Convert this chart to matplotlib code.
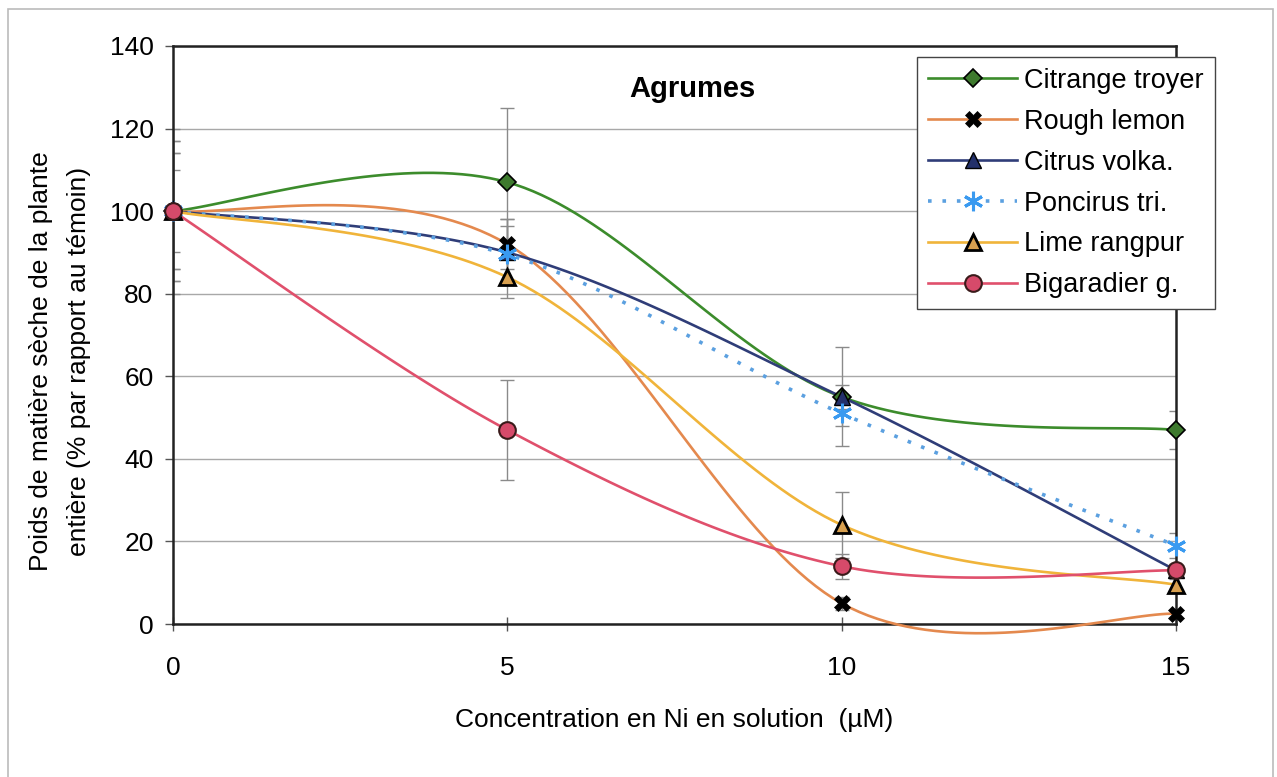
import numpy as np
import matplotlib
matplotlib.use("Agg")
import matplotlib.pyplot as plt
from matplotlib.patches import Rectangle

plt.rcParams['font.family'] = ['Liberation Sans', 'DejaVu Sans']

# Data
conc = [0, 5, 10, 15]
series = ['Citrange troyer', 'Rough lemon', 'Citrus volka.', 'Poncirus tri.', 'Lime rangpur', 'Bigaradier g.']
citrange = [100, 107, 55, 47]
rough_lemon = [100, 92, 5, 2.5]
citrus_volka = [100, 90, 55, 13]
poncirus = [100, 89.5, 51, 19]
lime = [100, 84, 24, 9.5]
bigaradier = [100, 47, 14, 13]

citrange_err = [20, 18, 12, 4.5]
rough_lemon_err = [14, 6, 1.5, 1]
citrus_volka_err = [10, 8, 3, 1.5]
poncirus_err = [17, 7, 3, 3]
lime_err = [17, 5, 8, 1.5]
bigaradier_err = [14, 12, 3, 1.5]


def smooth(x, y, n=40):
    # excel-like smoothed line (bezier through the points)
    x = np.asarray(x, float)
    y = np.asarray(y, float)
    px = np.concatenate([[x[0]], x, [x[-1]]])
    py = np.concatenate([[y[0]], y, [y[-1]]])
    xs, ys = [], []
    t = np.linspace(0, 1, n)
    for i in range(1, len(px) - 2):
        p0 = np.array([px[i], py[i]])
        p3 = np.array([px[i + 1], py[i + 1]])
        b1 = p0 + (np.array([px[i + 1], py[i + 1]]) - np.array([px[i - 1], py[i - 1]])) / 6
        b2 = p3 - (np.array([px[i + 2], py[i + 2]]) - np.array([px[i], py[i]])) / 6
        pts = ((1 - t) ** 3)[:, None] * p0 + (3 * (1 - t) ** 2 * t)[:, None] * b1 \
            + (3 * (1 - t) * t ** 2)[:, None] * b2 + (t ** 3)[:, None] * p3
        xs.extend(pts[:, 0])
        ys.extend(pts[:, 1])
    return np.array(xs), np.array(ys)


fig = plt.figure(figsize=(12.77, 7.77), dpi=100)
ax = fig.add_axes([0.1355, 0.1969, 0.7854, 0.7439])

data = [citrange, rough_lemon, citrus_volka, poncirus, lime, bigaradier]
errs = [citrange_err, rough_lemon_err, citrus_volka_err, poncirus_err, lime_err, bigaradier_err]
line_colors = ['#3c8c2c', '#e4894e', '#2f3d78', '#5ba0e0', '#f0b43a', '#e0506c']
styles = [
    dict(marker='D', ms=9, mfc='#3e7a2e', mec='black', mew=1.2),
    dict(marker='X', ms=11, mfc='black', mec='black', mew=0.5),
    dict(marker='^', ms=11, mfc='#23306a', mec='black', mew=1.0),
    dict(marker=(6, 2, 0), ms=14, mfc='#3a9af0', mec='#3a9af0', mew=2.2),
    dict(marker='^', ms=11, mfc='#d8a050', mec='black', mew=2.0),
    dict(marker='o', ms=12, mfc='#d64a6a', mec='#3a1a1a', mew=1.5),
]
linestyles = ['-', '-', '-', (0, (1, 3)), '-', '-']

for vals, err in zip(data, errs):
    ax.errorbar(conc, vals, yerr=err, fmt='none', ecolor='#8a8a8a', elinewidth=1,
                capsize=5, capthick=1, zorder=2)

handles = []
for name, vals, col, st, ls in zip(series, data, line_colors, styles, linestyles):
    sx, sy = smooth(conc, vals)
    lw = 2.6 if ls != '-' else 1.9
    ax.plot(sx, sy, color=col, lw=lw, ls=ls, zorder=3, clip_on=False)
    ax.plot(conc, vals, ls='none', zorder=4, clip_on=False, **st)
    h, = ax.plot([], [], color=col, lw=lw, ls=ls, **st)
    h.set_label(name)
    handles.append(h)

ax.set_xlim(0, 15)
ax.set_ylim(0, 140)
ax.set_xticks(conc)
ax.set_yticks(range(0, 141, 20))
ax.yaxis.grid(True, color='#a8a8a8', lw=1)
ax.set_axisbelow(True)
for sp in ax.spines.values():
    sp.set_color('#222222')
    sp.set_linewidth(1.8)

ax.tick_params(axis='y', direction='out', length=6, width=1, color='#555555', labelsize=19, pad=8)
ax.tick_params(axis='x', direction='inout', length=10, width=1, color='#555555', labelsize=19, pad=18)

ax.set_xlabel('Concentration en Ni en solution  (µM)', fontsize=19, labelpad=20)
ax.set_ylabel('Poids de matière sèche de la plante\nentière (% par rapport au témoin)', fontsize=19,
              linespacing=1.7)
ax.yaxis.set_label_coords(-0.082, 0.455)

ax.text(0.5175, 0.925, 'Agrumes', transform=ax.transAxes, ha='center', va='center',
        fontsize=21, fontweight='bold')

leg = ax.legend(handles=handles, loc='upper left', bbox_to_anchor=(0.742, 0.981),
                fontsize=19.5, frameon=True, fancybox=False, framealpha=1,
                edgecolor='#444444', handlelength=3.3, handletextpad=0.25,
                labelspacing=0.55, borderpad=0.4, borderaxespad=0)
leg.get_frame().set_linewidth(1.0)
leg.set_zorder(10)

# outer chart frame
fig.patches.append(Rectangle((8 / 1277, -0.05), 1265 / 1277, 1 - 9 / 777 + 0.05,
                             transform=fig.transFigure, fill=False,
                             edgecolor='#bbbbbb', lw=1.2))

fig.savefig('out.png', dpi=100)
